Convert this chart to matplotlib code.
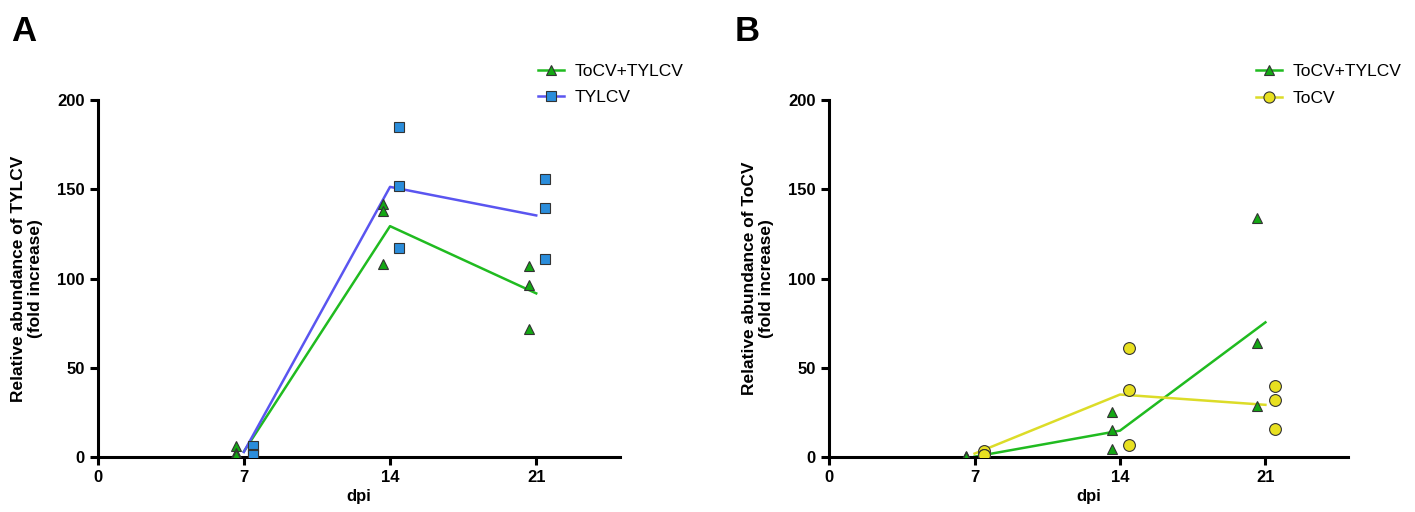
import matplotlib
matplotlib.use("Agg")
import matplotlib.pyplot as plt
import numpy as np

plt.rcParams['font.family'] = ['Liberation Sans', 'DejaVu Sans']

days = [7, 14, 21]
xticks = [0, 7, 14, 21]
yticks = [0, 50, 100, 150, 200]

# Panel A: TYLCV abundance
a_mix = [[6, 2, 1], [142, 138, 108], [107, 96.5, 71.5]]      # ToCV+TYLCV
a_tylcv = [[6, 1.5, 1], [185, 152, 117], [155.5, 139.5, 111]]  # TYLCV
# Panel B: ToCV abundance
b_mix = [[0.3, 0.2, 0.1], [25, 15, 4.3], [134, 64, 28.3]]    # ToCV+TYLCV
b_tocv = [[3.5, 1.2, 1.0], [61, 37.5, 6.5], [40, 32, 15.7]]   # ToCV

GREEN_F = '#14a814'
GREEN_L = '#20bb20'
BLUE_F = '#2b8ddb'
BLUE_L = '#5a55f0'
YEL_F = '#e8e020'
YEL_L = '#dcdc28'

fig = plt.figure(figsize=(14.15, 5.12), dpi=100)
axA = fig.add_axes([0.069, 0.1074, 0.369, 0.6973])
axB = fig.add_axes([0.586, 0.1074, 0.367, 0.6973])


def draw(ax, s1, s2, c1, c2, m2, lab1, lab2, off1=-0.36, off2=0.43):
    for vals, off, fc, lc, mk, lab, ms in [(s1, off1, c1[0], c1[1], '^', lab1, 7.8),
                                            (s2, off2, c2[0], c2[1], m2, lab2, 7 if m2 == 's' else 8.5)]:
        means = [np.mean(v) for v in vals]
        ax.plot(days, means, color=lc, lw=1.8, zorder=2)
        for d, v in zip(days, vals):
            ax.plot([d + off] * len(v), v, linestyle='none', marker=mk, ms=ms,
                    mfc=fc, mec='#333333', mew=0.8, zorder=3)
        ax.plot([], [], color=lc, lw=1.8, marker=mk, ms=ms - 0.5, mfc=fc, mec='#333333',
                mew=0.8, label=lab)
    ax.set_xlim(0, 25)
    ax.set_ylim(0, 200)
    ax.set_xticks(xticks)
    ax.set_yticks(yticks)
    for sp in ['top', 'right']:
        ax.spines[sp].set_visible(False)
    for sp in ['left', 'bottom']:
        ax.spines[sp].set_linewidth(2.2)
    ax.tick_params(width=2.2, length=6, labelsize=12)
    for t in ax.get_xticklabels() + ax.get_yticklabels():
        t.set_fontweight('bold')
    ax.set_xlabel('dpi', fontsize=12, fontweight='bold', labelpad=3)


draw(axA, a_mix, a_tylcv, (GREEN_F, GREEN_L), (BLUE_F, BLUE_L), 's',
     'ToCV+TYLCV', 'TYLCV')
axA.set_ylabel('Relative abundance of TYLCV\n(fold increase)', fontsize=12.5,
               fontweight='bold', labelpad=10)
axA.legend(loc='upper left', bbox_to_anchor=(0.83, 1.12), frameon=False,
           fontsize=12.5, handlelength=1.5, borderaxespad=0, labelspacing=0.6,
           handletextpad=0.6)

draw(axB, b_mix, b_tocv, (GREEN_F, GREEN_L), (YEL_F, YEL_L), 'o',
     'ToCV+TYLCV', 'ToCV', off1=-0.4, off2=0.45)
axB.set_ylabel('Relative abundance of ToCV\n(fold increase)', fontsize=12.5,
               fontweight='bold', labelpad=10)
axB.legend(loc='upper left', bbox_to_anchor=(0.808, 1.12), frameon=False,
           fontsize=12.5, handlelength=1.5, borderaxespad=0, labelspacing=0.65,
           handletextpad=0.6)

fig.text(0.008, 0.92, 'A', fontsize=25, fontweight='bold')
fig.text(0.519, 0.92, 'B', fontsize=25, fontweight='bold')

fig.savefig('out.png', dpi=100)
